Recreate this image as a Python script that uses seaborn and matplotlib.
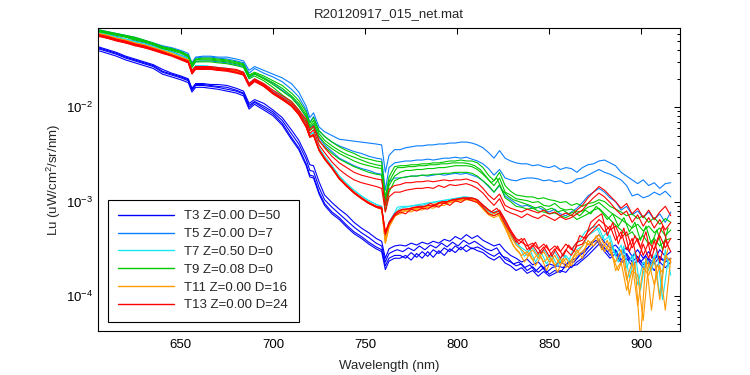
import numpy as np
import pandas as pd
import matplotlib
matplotlib.use("Agg")
import matplotlib.pyplot as plt
import seaborn as sns
from matplotlib.ticker import LogLocator, NullFormatter

# ---------------- data (wavelength in nm, values are log10 of Lu) ----------------
wl_a = [605, 610, 615, 620, 625, 630, 635, 640, 645, 650,
        654, 656, 658, 662, 666, 670, 675, 680, 684, 687, 690, 695,
        700, 705, 710, 714, 718, 720, 722, 725, 728, 732,
        736, 740, 744, 748, 752, 756, 759, 761, 763, 766]
wl_b = [769, 772, 775, 778, 781, 784, 787, 790, 793, 796,
        799, 802, 805, 808, 811, 814, 817, 820, 823, 826,
        829, 832, 835, 838, 841, 844, 847, 850, 853, 856,
        859, 862, 865, 868, 871, 874, 877, 880, 883, 886,
        889, 892, 895, 898, 901, 904, 907, 910, 913, 916]
wl_c = [767.5, 770.5, 773.5, 776.5, 779.5, 782.5, 785.5, 788.5, 791.5, 794.5,
        797.5, 800.5, 803.5, 806.5, 809.5, 812.5, 815.5, 818.5, 821.5, 824.5,
        827.5, 830.5, 833.5, 836.5, 839.5, 842.5, 845.5, 848.5, 851.5, 854.5,
        857.5, 860.5, 863.5, 866.5, 869.5, 872.5, 875.5, 878.5, 881.5, 884.5,
        887.5, 890.5, 893.5, 896.5, 899.5, 902.5, 905.5, 908.5, 911.5, 914.5]
grid_1 = wl_a + wl_b
grid_2 = wl_a + wl_c

# T3 Z=0.00 D=50
t3_a = [-1.36,-1.39,-1.42,-1.46,-1.49,-1.52,-1.55,-1.60,-1.64,-1.67,
        -1.70,-1.80,-1.75,-1.75,-1.76,-1.76,-1.77,-1.80,-1.83,-1.96,-1.92,-1.96,
        -2.03,-2.11,-2.24,-2.35,-2.51,-2.61,-2.62,-2.79,-2.93,-3.01,
        -3.08,-3.14,-3.22,-3.28,-3.33,-3.39,-3.42,-3.60,-3.50,-3.47,
        -3.46,-3.47,-3.44,-3.46,-3.43,-3.45,-3.42,-3.44,-3.40,-3.42,
        -3.37,-3.40,-3.35,-3.39,-3.36,-3.41,-3.44,-3.47,-3.45,-3.52,
        -3.57,-3.60,-3.64,-3.61,-3.67,-3.64,-3.70,-3.66,-3.68,-3.64,
        -3.67,-3.62,-3.60,-3.53,-3.49,-3.41,-3.35,-3.43,-3.49,-3.46,
        -3.53,-3.49,-3.58,-3.51,-3.60,-3.53,-3.62,-3.51,-3.58,-3.53]
t3_b = [-1.38,-1.41,-1.44,-1.48,-1.51,-1.54,-1.57,-1.63,-1.66,-1.69,
        -1.72,-1.82,-1.77,-1.77,-1.78,-1.79,-1.81,-1.83,-1.86,-2.00,-1.95,-2.01,
        -2.07,-2.17,-2.32,-2.43,-2.60,-2.72,-2.73,-2.90,-3.02,-3.11,
        -3.17,-3.25,-3.32,-3.37,-3.43,-3.48,-3.51,-3.68,-3.60,-3.57,
        -3.57,-3.60,-3.54,-3.59,-3.53,-3.58,-3.51,-3.55,-3.49,-3.53,
        -3.47,-3.51,-3.46,-3.50,-3.48,-3.51,-3.55,-3.58,-3.54,-3.61,
        -3.64,-3.68,-3.66,-3.73,-3.69,-3.75,-3.70,-3.77,-3.73,-3.75,
        -3.68,-3.70,-3.64,-3.60,-3.53,-3.47,-3.41,-3.49,-3.57,-3.51,
        -3.62,-3.55,-3.64,-3.58,-3.67,-3.60,-3.66,-3.58,-3.64,-3.60]
t3_c = [-1.40,-1.43,-1.46,-1.50,-1.53,-1.56,-1.59,-1.65,-1.68,-1.71,
        -1.74,-1.84,-1.79,-1.79,-1.80,-1.81,-1.83,-1.85,-1.88,-2.02,-1.97,-2.03,
        -2.09,-2.19,-2.34,-2.45,-2.62,-2.74,-2.75,-2.92,-3.04,-3.13,
        -3.19,-3.27,-3.34,-3.39,-3.45,-3.50,-3.53,-3.72,-3.63,-3.60,
        -3.60,-3.57,-3.62,-3.55,-3.60,-3.53,-3.59,-3.52,-3.57,-3.50,
        -3.54,-3.48,-3.53,-3.49,-3.52,-3.54,-3.59,-3.62,-3.58,-3.65,
        -3.68,-3.73,-3.70,-3.76,-3.73,-3.79,-3.74,-3.79,-3.76,-3.73,
        -3.75,-3.68,-3.67,-3.62,-3.57,-3.51,-3.45,-3.53,-3.60,-3.55,
        -3.65,-3.60,-3.68,-3.62,-3.70,-3.64,-3.73,-3.64,-3.70,-3.64]
t3_d = [-1.37,-1.40,-1.43,-1.47,-1.50,-1.53,-1.56,-1.62,-1.65,-1.68,
        -1.71,-1.81,-1.76,-1.76,-1.77,-1.78,-1.79,-1.82,-1.85,-1.98,-1.94,-1.99,
        -2.05,-2.14,-2.28,-2.39,-2.55,-2.67,-2.68,-2.85,-2.98,-3.06,
        -3.13,-3.20,-3.27,-3.33,-3.38,-3.44,-3.47,-3.64,-3.55,-3.52,
        -3.51,-3.53,-3.49,-3.52,-3.47,-3.51,-3.46,-3.49,-3.44,-3.48,
        -3.43,-3.47,-3.41,-3.45,-3.42,-3.46,-3.50,-3.52,-3.49,-3.58,
        -3.60,-3.66,-3.64,-3.70,-3.67,-3.74,-3.68,-3.75,-3.70,-3.68,
        -3.70,-3.64,-3.64,-3.57,-3.53,-3.45,-3.41,-3.47,-3.53,-3.49,
        -3.58,-3.53,-3.62,-3.55,-3.64,-3.58,-3.66,-3.58,-3.62,-3.60]

# T5 Z=0.00 D=7
t5_a = [-1.18,-1.20,-1.22,-1.24,-1.26,-1.29,-1.32,-1.35,-1.37,-1.40,
        -1.43,-1.53,-1.47,-1.46,-1.46,-1.47,-1.47,-1.49,-1.51,-1.61,-1.57,-1.61,
        -1.65,-1.69,-1.75,-1.84,-1.99,-2.11,-2.06,-2.21,-2.26,-2.30,
        -2.34,-2.35,-2.36,-2.37,-2.38,-2.39,-2.40,-2.69,-2.51,-2.45,
        -2.45,-2.43,-2.42,-2.41,-2.41,-2.40,-2.40,-2.39,-2.39,-2.38,
        -2.38,-2.37,-2.37,-2.38,-2.40,-2.43,-2.48,-2.54,-2.46,-2.54,
        -2.57,-2.59,-2.60,-2.60,-2.62,-2.61,-2.63,-2.64,-2.62,-2.66,
        -2.64,-2.65,-2.69,-2.64,-2.61,-2.60,-2.57,-2.56,-2.59,-2.62,
        -2.69,-2.73,-2.77,-2.81,-2.77,-2.83,-2.80,-2.86,-2.81,-2.80]
t5_b = [-1.19,-1.21,-1.23,-1.25,-1.28,-1.30,-1.33,-1.36,-1.38,-1.41,
        -1.45,-1.54,-1.48,-1.47,-1.47,-1.48,-1.49,-1.51,-1.53,-1.64,-1.59,-1.64,
        -1.68,-1.73,-1.81,-1.89,-2.03,-2.16,-2.10,-2.25,-2.31,-2.37,
        -2.41,-2.44,-2.47,-2.49,-2.52,-2.54,-2.55,-2.88,-2.64,-2.59,
        -2.58,-2.57,-2.57,-2.56,-2.56,-2.55,-2.56,-2.55,-2.54,-2.54,
        -2.53,-2.54,-2.53,-2.55,-2.57,-2.60,-2.65,-2.72,-2.66,-2.75,
        -2.77,-2.78,-2.76,-2.75,-2.75,-2.76,-2.78,-2.77,-2.79,-2.78,
        -2.81,-2.80,-2.76,-2.75,-2.72,-2.69,-2.66,-2.69,-2.71,-2.74,
        -2.77,-2.83,-2.94,-2.92,-2.96,-2.94,-2.90,-2.93,-2.89,-2.95]
t5_c = [-1.21,-1.23,-1.25,-1.28,-1.30,-1.32,-1.35,-1.38,-1.41,-1.45,
        -1.48,-1.57,-1.52,-1.51,-1.51,-1.52,-1.53,-1.55,-1.57,-1.69,-1.65,-1.69,
        -1.75,-1.82,-1.89,-1.98,-2.11,-2.22,-2.19,-2.32,-2.40,-2.47,
        -2.54,-2.58,-2.62,-2.65,-2.67,-2.70,-2.71,-2.98,-2.79,-2.75,
        -2.75,-2.74,-2.73,-2.73,-2.72,-2.73,-2.72,-2.71,-2.72,-2.71,
        -2.70,-2.71,-2.70,-2.72,-2.74,-2.78,-2.84,-2.90,-2.83,-2.94,
        -2.98,-3.02,-3.05,-3.04,-3.07,-3.06,-3.09,-3.11,-3.08,-3.13,
        -3.15,-3.11,-3.07,-3.01,-2.94,-2.90,-2.86,-2.90,-2.96,-3.00,
        -3.09,-3.05,-3.14,-3.10,-3.17,-3.11,-3.19,-3.13,-3.22,-3.11]

# T7 Z=0.50 D=0
t7_a = [-1.21,-1.23,-1.26,-1.28,-1.31,-1.33,-1.36,-1.39,-1.42,-1.46,
        -1.49,-1.61,-1.56,-1.56,-1.57,-1.58,-1.59,-1.61,-1.63,-1.75,-1.70,-1.76,
        -1.83,-1.89,-1.96,-2.05,-2.18,-2.29,-2.27,-2.43,-2.52,-2.62,
        -2.73,-2.81,-2.88,-2.94,-2.99,-3.03,-3.05,-3.38,-3.22,-3.12,
        -3.07,-3.06,-3.05,-3.04,-3.04,-3.02,-3.01,-3.00,-2.99,-2.98,
        -2.97,-2.96,-2.95,-2.96,-2.98,-3.04,-3.10,-3.13,-3.10,-3.22,
        -3.34,-3.44,-3.49,-3.53,-3.49,-3.58,-3.51,-3.60,-3.53,-3.64,
        -3.57,-3.64,-3.51,-3.47,-3.36,-3.32,-3.28,-3.41,-3.36,-3.57,
        -3.46,-3.70,-3.57,-3.88,-3.64,-3.73,-3.57,-3.99,-3.51,-3.78]
t7_b = [-1.21,-1.23,-1.26,-1.28,-1.31,-1.33,-1.36,-1.39,-1.42,-1.46,
        -1.49,-1.61,-1.56,-1.56,-1.57,-1.58,-1.59,-1.61,-1.63,-1.75,-1.70,-1.76,
        -1.83,-1.89,-1.96,-2.05,-2.18,-2.29,-2.27,-2.43,-2.52,-2.62,
        -2.73,-2.81,-2.88,-2.94,-2.99,-3.03,-3.05,-3.38,-3.22,-3.12,
        -3.06,-3.05,-3.05,-3.04,-3.03,-3.02,-3.01,-3.00,-2.99,-2.98,
        -2.97,-2.96,-2.95,-2.96,-2.97,-3.02,-3.08,-3.12,-3.10,-3.18,
        -3.28,-3.41,-3.47,-3.58,-3.51,-3.64,-3.53,-3.66,-3.57,-3.68,
        -3.55,-3.64,-3.47,-3.41,-3.32,-3.28,-3.26,-3.39,-3.32,-3.51,
        -3.64,-3.47,-3.81,-3.53,-3.94,-3.60,-3.73,-3.51,-4.04,-3.62]

# T9 Z=0.08 D=0
t9_a = [-1.18,-1.20,-1.22,-1.24,-1.26,-1.29,-1.32,-1.36,-1.38,-1.41,
        -1.45,-1.54,-1.49,-1.48,-1.48,-1.49,-1.50,-1.52,-1.54,-1.66,-1.63,-1.67,
        -1.72,-1.77,-1.85,-1.93,-2.05,-2.17,-2.11,-2.25,-2.31,-2.37,
        -2.42,-2.46,-2.49,-2.53,-2.55,-2.57,-2.58,-2.96,-2.74,-2.63,
        -2.62,-2.62,-2.61,-2.61,-2.60,-2.60,-2.59,-2.59,-2.58,-2.57,
        -2.57,-2.56,-2.57,-2.57,-2.59,-2.64,-2.72,-2.78,-2.69,-2.83,
        -2.89,-2.93,-2.94,-2.95,-2.95,-2.97,-2.96,-2.98,-2.99,-3.01,
        -3.00,-3.04,-3.02,-3.05,-3.02,-3.01,-2.98,-3.00,-3.05,-3.08,
        -3.11,-3.15,-3.13,-3.18,-3.15,-3.22,-3.17,-3.24,-3.18,-3.22]
t9_b = [-1.19,-1.21,-1.23,-1.25,-1.28,-1.30,-1.33,-1.37,-1.39,-1.42,
        -1.46,-1.56,-1.50,-1.50,-1.50,-1.51,-1.52,-1.54,-1.56,-1.68,-1.65,-1.70,
        -1.76,-1.83,-1.90,-1.99,-2.10,-2.22,-2.17,-2.31,-2.38,-2.44,
        -2.49,-2.53,-2.57,-2.60,-2.62,-2.64,-2.65,-3.04,-2.83,-2.73,
        -2.69,-2.67,-2.67,-2.66,-2.66,-2.65,-2.65,-2.64,-2.64,-2.63,
        -2.62,-2.62,-2.62,-2.63,-2.66,-2.71,-2.77,-2.83,-2.75,-2.90,
        -2.93,-2.97,-2.98,-2.99,-3.01,-3.00,-3.04,-3.05,-3.02,-3.07,
        -3.09,-3.08,-3.11,-3.10,-3.06,-3.04,-3.01,-3.06,-3.11,-3.15,
        -3.19,-3.23,-3.28,-3.24,-3.31,-3.26,-3.33,-3.28,-3.36,-3.30]
t9_c = [-1.20,-1.22,-1.24,-1.26,-1.29,-1.31,-1.34,-1.38,-1.40,-1.43,
        -1.47,-1.58,-1.52,-1.52,-1.52,-1.53,-1.54,-1.56,-1.58,-1.70,-1.67,-1.72,
        -1.79,-1.87,-1.94,-2.03,-2.15,-2.25,-2.21,-2.36,-2.42,-2.49,
        -2.55,-2.59,-2.63,-2.66,-2.69,-2.71,-2.72,-3.11,-2.90,-2.78,
        -2.75,-2.74,-2.73,-2.73,-2.72,-2.72,-2.71,-2.71,-2.70,-2.70,
        -2.69,-2.69,-2.69,-2.70,-2.73,-2.78,-2.83,-2.90,-2.82,-2.96,
        -3.00,-3.05,-3.06,-3.08,-3.07,-3.10,-3.11,-3.13,-3.12,-3.15,
        -3.17,-3.14,-3.19,-3.16,-3.13,-3.09,-3.07,-3.13,-3.19,-3.25,
        -3.30,-3.36,-3.32,-3.41,-3.36,-3.45,-3.39,-3.47,-3.41,-3.39]
t9_d = [-1.19,-1.21,-1.23,-1.25,-1.27,-1.30,-1.33,-1.37,-1.39,-1.42,
        -1.46,-1.55,-1.50,-1.49,-1.49,-1.50,-1.51,-1.53,-1.55,-1.67,-1.64,-1.69,
        -1.74,-1.80,-1.88,-1.96,-2.08,-2.20,-2.14,-2.28,-2.35,-2.41,
        -2.46,-2.50,-2.53,-2.56,-2.59,-2.61,-2.62,-3.00,-2.79,-2.68,
        -2.64,-2.64,-2.63,-2.63,-2.62,-2.62,-2.61,-2.61,-2.60,-2.60,
        -2.59,-2.59,-2.59,-2.60,-2.62,-2.66,-2.73,-2.80,-2.75,-2.88,
        -2.94,-2.98,-3.00,-3.02,-3.04,-3.07,-3.05,-3.09,-3.07,-3.11,
        -3.09,-3.13,-3.11,-3.15,-3.09,-3.13,-3.05,-3.11,-3.19,-3.13,
        -3.26,-3.17,-3.32,-3.22,-3.41,-3.26,-3.45,-3.30,-3.51,-3.28]

# T11 Z=0.00 D=16
t11_a = [-1.22,-1.24,-1.27,-1.29,-1.32,-1.34,-1.37,-1.40,-1.43,-1.47,
         -1.50,-1.62,-1.57,-1.57,-1.58,-1.59,-1.60,-1.62,-1.64,-1.76,-1.71,-1.77,
         -1.85,-1.91,-1.98,-2.07,-2.20,-2.31,-2.29,-2.45,-2.54,-2.64,
         -2.75,-2.83,-2.90,-2.96,-3.01,-3.05,-3.07,-3.44,-3.27,-3.16,
         -3.11,-3.09,-3.09,-3.07,-3.07,-3.06,-3.05,-3.02,-3.02,-3.00,
         -2.99,-2.98,-2.97,-2.97,-3.00,-3.06,-3.12,-3.15,-3.12,-3.25,
         -3.36,-3.46,-3.51,-3.57,-3.51,-3.60,-3.53,-3.64,-3.57,-3.67,
         -3.60,-3.68,-3.57,-3.53,-3.45,-3.41,-3.35,-3.46,-3.53,-3.64,
         -3.51,-3.83,-3.64,-4.10,-3.70,-3.78,-3.60,-4.04,-3.57,-3.64]
t11_b = [-1.23,-1.25,-1.28,-1.30,-1.33,-1.35,-1.38,-1.41,-1.44,-1.48,
         -1.51,-1.63,-1.58,-1.58,-1.59,-1.60,-1.61,-1.63,-1.65,-1.77,-1.72,-1.78,
         -1.86,-1.92,-1.99,-2.08,-2.21,-2.32,-2.30,-2.46,-2.55,-2.65,
         -2.76,-2.84,-2.91,-2.97,-3.02,-3.06,-3.08,-3.40,-3.25,-3.15,
         -3.13,-3.10,-3.11,-3.08,-3.09,-3.06,-3.07,-3.04,-3.04,-3.01,
         -3.00,-2.99,-2.98,-2.99,-3.01,-3.08,-3.14,-3.17,-3.14,-3.28,
         -3.41,-3.51,-3.57,-3.53,-3.62,-3.55,-3.64,-3.58,-3.68,-3.60,
         -3.70,-3.62,-3.51,-3.60,-3.41,-3.47,-3.39,-3.53,-3.43,-3.73,
         -3.64,-3.94,-3.73,-3.78,-4.26,-3.64,-3.88,-3.67,-4.15,-3.60]
t11_c = [-1.22,-1.24,-1.27,-1.29,-1.32,-1.34,-1.37,-1.40,-1.43,-1.47,
         -1.50,-1.62,-1.57,-1.57,-1.58,-1.59,-1.60,-1.62,-1.64,-1.76,-1.71,-1.77,
         -1.85,-1.91,-1.98,-2.07,-2.20,-2.31,-2.29,-2.45,-2.54,-2.64,
         -2.75,-2.83,-2.90,-2.96,-3.01,-3.05,-3.07,-3.44,-3.27,-3.16,
         -3.10,-3.09,-3.08,-3.07,-3.06,-3.05,-3.04,-3.02,-3.01,-3.00,
         -2.99,-2.98,-2.97,-2.98,-2.98,-3.04,-3.09,-3.14,-3.11,-3.22,
         -3.32,-3.47,-3.53,-3.64,-3.55,-3.68,-3.58,-3.73,-3.60,-3.75,
         -3.60,-3.70,-3.58,-3.51,-3.43,-3.47,-3.36,-3.51,-3.41,-3.60,
         -3.73,-3.57,-3.99,-3.64,-4.47,-3.60,-4.15,-3.67,-3.75,-3.49]

# T13 Z=0.00 D=24
t13_a = [-1.23,-1.25,-1.28,-1.30,-1.33,-1.35,-1.38,-1.41,-1.45,-1.48,
         -1.51,-1.61,-1.57,-1.57,-1.57,-1.58,-1.59,-1.60,-1.63,-1.75,-1.70,-1.75,
         -1.82,-1.88,-1.94,-2.03,-2.13,-2.24,-2.20,-2.35,-2.43,-2.52,
         -2.59,-2.64,-2.69,-2.72,-2.74,-2.76,-2.77,-3.04,-2.87,-2.83,
         -2.82,-2.80,-2.80,-2.79,-2.79,-2.78,-2.79,-2.78,-2.77,-2.78,
         -2.77,-2.77,-2.76,-2.78,-2.80,-2.86,-2.93,-2.98,-2.92,-3.04,
         -3.07,-3.09,-3.11,-3.08,-3.10,-3.12,-3.09,-3.13,-3.11,-3.15,
         -3.12,-3.15,-3.09,-3.04,-2.96,-2.90,-2.84,-2.88,-2.94,-3.00,
         -3.07,-3.02,-3.13,-3.07,-3.17,-3.09,-3.19,-3.11,-3.05,-3.15]
t13_b = [-1.24,-1.26,-1.29,-1.31,-1.34,-1.36,-1.39,-1.42,-1.45,-1.49,
         -1.52,-1.63,-1.58,-1.58,-1.58,-1.59,-1.60,-1.61,-1.64,-1.76,-1.71,-1.76,
         -1.84,-1.90,-1.96,-2.05,-2.17,-2.28,-2.24,-2.40,-2.48,-2.58,
         -2.66,-2.72,-2.77,-2.80,-2.82,-2.84,-2.86,-3.11,-2.95,-2.90,
         -2.90,-2.88,-2.87,-2.86,-2.86,-2.85,-2.86,-2.83,-2.85,-2.82,
         -2.83,-2.82,-2.81,-2.83,-2.86,-2.91,-2.98,-3.04,-2.97,-3.09,
         -3.12,-3.14,-3.17,-3.13,-3.16,-3.18,-3.14,-3.17,-3.20,-3.16,
         -3.19,-3.17,-3.13,-3.09,-3.02,-2.96,-2.91,-2.95,-3.01,-3.08,
         -3.14,-3.10,-3.22,-3.14,-3.26,-3.17,-3.28,-3.19,-3.30,-3.22]
t13_c = [-1.24,-1.26,-1.29,-1.31,-1.34,-1.36,-1.39,-1.42,-1.45,-1.49,
         -1.52,-1.64,-1.59,-1.59,-1.59,-1.60,-1.61,-1.63,-1.65,-1.77,-1.72,-1.77,
         -1.85,-1.91,-1.98,-2.07,-2.20,-2.31,-2.29,-2.45,-2.54,-2.64,
         -2.75,-2.83,-2.90,-2.96,-3.01,-3.05,-3.06,-3.32,-3.22,-3.13,
         -3.09,-3.08,-3.07,-3.06,-3.06,-3.04,-3.05,-3.01,-3.02,-2.99,
         -2.98,-2.97,-2.96,-2.96,-2.98,-3.04,-3.09,-3.12,-3.09,-3.19,
         -3.30,-3.39,-3.43,-3.47,-3.44,-3.50,-3.45,-3.52,-3.47,-3.53,
         -3.45,-3.51,-3.43,-3.41,-3.32,-3.26,-3.19,-3.24,-3.30,-3.26,
         -3.39,-3.32,-3.49,-3.39,-3.57,-3.43,-3.51,-3.36,-3.49,-3.39]
t13_d = [-1.25,-1.27,-1.30,-1.32,-1.35,-1.37,-1.40,-1.43,-1.46,-1.50,
         -1.53,-1.65,-1.60,-1.60,-1.60,-1.61,-1.62,-1.64,-1.66,-1.78,-1.73,-1.78,
         -1.86,-1.92,-1.99,-2.08,-2.21,-2.32,-2.30,-2.46,-2.55,-2.65,
         -2.76,-2.84,-2.91,-2.97,-3.02,-3.06,-3.08,-3.35,-3.24,-3.15,
         -3.11,-3.13,-3.08,-3.10,-3.07,-3.08,-3.04,-3.06,-3.01,-3.04,
         -2.99,-3.01,-2.97,-2.99,-3.01,-3.06,-3.13,-3.15,-3.12,-3.24,
         -3.33,-3.43,-3.39,-3.51,-3.46,-3.55,-3.48,-3.58,-3.50,-3.60,
         -3.51,-3.57,-3.47,-3.45,-3.36,-3.30,-3.24,-3.32,-3.26,-3.41,
         -3.32,-3.51,-3.39,-3.64,-3.45,-3.60,-3.41,-3.64,-3.41,-3.53]
t13_e = [-1.24,-1.27,-1.29,-1.32,-1.34,-1.37,-1.39,-1.43,-1.45,-1.49,
         -1.53,-1.64,-1.59,-1.60,-1.59,-1.61,-1.61,-1.63,-1.66,-1.77,-1.72,-1.78,
         -1.85,-1.92,-1.98,-2.07,-2.21,-2.31,-2.30,-2.45,-2.55,-2.64,
         -2.76,-2.83,-2.91,-2.96,-3.02,-3.05,-3.07,-3.33,-3.23,-3.14,
         -3.11,-3.08,-3.08,-3.06,-3.05,-3.05,-3.02,-3.04,-3.00,-3.00,
         -2.98,-2.97,-2.96,-2.97,-2.97,-3.01,-3.06,-3.11,-3.07,-3.15,
         -3.26,-3.36,-3.45,-3.39,-3.51,-3.43,-3.55,-3.46,-3.58,-3.47,
         -3.58,-3.46,-3.53,-3.36,-3.39,-3.22,-3.17,-3.13,-3.36,-3.22,
         -3.45,-3.28,-3.53,-3.36,-3.49,-3.32,-3.60,-3.41,-3.26,-3.47]

labels = ["T3 Z=0.00 D=50", "T5 Z=0.00 D=7", "T7 Z=0.50 D=0",
          "T9 Z=0.08 D=0", "T11 Z=0.00 D=16", "T13 Z=0.00 D=24"]
colors = ["#0000ff", "#0a7fff", "#19e6f2", "#00c800", "#ff9900", "#ff0000"]
groups = [
    [(t3_a, grid_1), (t3_b, grid_1), (t3_c, grid_1), (t3_d, grid_2)],
    [(t5_a, grid_1), (t5_b, grid_1), (t5_c, grid_1)],
    [(t7_a, grid_1), (t7_b, grid_2)],
    [(t9_a, grid_1), (t9_b, grid_1), (t9_c, grid_1), (t9_d, grid_2)],
    [(t11_a, grid_1), (t11_b, grid_1), (t11_c, grid_2)],
    [(t13_a, grid_1), (t13_b, grid_1), (t13_c, grid_1), (t13_d, grid_1), (t13_e, grid_2)],
]

# ---------------- plotting ----------------
sns.set_theme(style="white")
plt.rcParams["font.family"] = ["Liberation Sans", "DejaVu Sans"]
plt.rcParams["mathtext.fontset"] = "custom"
plt.rcParams["mathtext.rm"] = "Liberation Sans"
plt.rcParams["mathtext.it"] = "Liberation Sans"

fig = plt.figure(figsize=(7.5, 3.75), dpi=100, facecolor="white")
ax = fig.add_axes([0.1307, 0.1173, 0.776, 0.808])
ax.set_yscale("log")

handles = []
for label, color, lines in zip(labels, colors, groups):
    for i, (vals, grid) in enumerate(lines):
        if len(vals) != len(grid):
            raise ValueError(f"{label} line {i}: {len(vals)} values vs {len(grid)}")
        df = pd.DataFrame({"nm": grid, "Lu": 10.0 ** np.array(vals)})
        sns.lineplot(data=df, x="nm", y="Lu", color=color, linewidth=0.8,
                     estimator=None, sort=False, ax=ax, legend=False)
        if i == 0:
            handles.append(ax.lines[-1])

ax.set_xlim(605, 921)
ax.set_ylim(4.26e-5, 0.0689)
ax.set_xticks([650, 700, 750, 800, 850, 900])
ax.yaxis.set_major_locator(LogLocator(base=10, numticks=10))
ax.yaxis.set_minor_locator(LogLocator(base=10, subs=np.arange(2, 10), numticks=20))
ax.yaxis.set_minor_formatter(NullFormatter())

ax.tick_params(which="both", direction="in", top=True, right=True,
               labelsize=9.5, colors="black", width=0.75)
ax.tick_params(which="major", length=4.5)
ax.tick_params(which="minor", length=2.5)
ax.tick_params(axis="x", which="major", pad=6)
for s in ax.spines.values():
    s.set_color("black")
    s.set_linewidth(0.8)

ax.set_xlabel("Wavelength (nm)", fontsize=9.5, labelpad=6)
ax.set_ylabel("Lu (uW/cm$^2$/sr/nm)", fontsize=9.5, labelpad=2)
ax.set_title("R20120917_015_net.mat", fontsize=9.5, pad=8)

leg = ax.legend(handles, labels, loc="lower left", bbox_to_anchor=(0.017, 0.03),
                borderaxespad=0, fontsize=9.5, frameon=True, fancybox=False,
                edgecolor="black", framealpha=1, handlelength=4.2,
                handletextpad=0.8, labelspacing=0.42, borderpad=0.8)
leg.get_frame().set_linewidth(0.8)
for h in leg.legend_handles:
    h.set_linewidth(1.0)

fig.savefig("out.png", dpi=100, facecolor="white")
